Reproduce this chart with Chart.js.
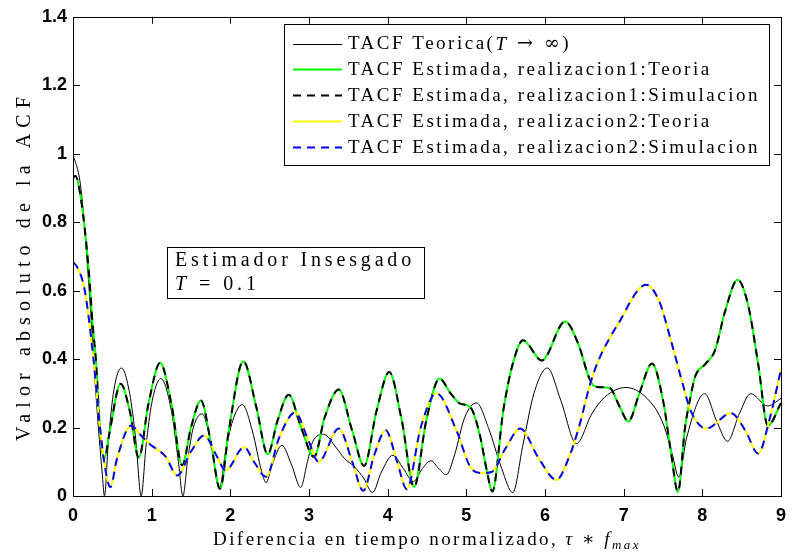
<!DOCTYPE html>
<html>
<head>
<meta charset="utf-8">
<script src="https://cdn.jsdelivr.net/npm/chart.js@4.4.1/dist/chart.umd.min.js"></script>
<style>
  body { margin: 0; background: #fff; }
</style>
</head>
<body>
<canvas id="myChart" width="795" height="554"></canvas>
<script>
// tick labels
var xTickLabels = ["0", "1", "2", "3", "4", "5", "6", "7", "8", "9"];
var yTickLabels = ["0", "0.2", "0.4", "0.6", "0.8", "1", "1.2", "1.4"];

// TACF teorica (T -> inf)
var teoX = [0, 0.1, 0.2, 0.3, 0.37, 0.40, 0.45, 0.52, 0.615, 0.72, 0.80, 0.866, 0.93, 1.0, 1.117, 1.25, 1.34, 1.397, 1.46, 1.53,
  1.64, 1.75, 1.86, 1.94, 2.03, 2.153, 2.28, 2.40, 2.455, 2.53, 2.655, 2.78, 2.894, 2.98, 3.05, 3.187, 3.35, 3.45, 3.58, 3.70,
  3.806, 3.92, 4.065, 4.20, 4.326, 4.44, 4.55, 4.65, 4.745, 4.85, 4.98, 5.13, 5.28, 5.45, 5.59, 5.72, 5.86, 6.03, 6.20, 6.40,
  6.595, 6.76, 7.03, 7.39, 7.52, 7.62, 7.70, 7.80, 8.03, 8.18, 8.32, 8.47, 8.615, 8.83, 9.0];
var teoY = [1.0, 0.90, 0.62, 0.27, 0.07, 0.0, 0.16, 0.31, 0.374, 0.30, 0.16, 0.0, 0.15, 0.27, 0.343, 0.25, 0.10, 0.0, 0.11, 0.20,
  0.240, 0.16, 0.02, 0.13, 0.22, 0.267, 0.19, 0.07, 0.039, 0.09, 0.148, 0.09, 0.025, 0.10, 0.16, 0.180, 0.14, 0.11, 0.085, 0.05,
  0.01, 0.07, 0.119, 0.08, 0.042, 0.08, 0.103, 0.08, 0.062, 0.12, 0.23, 0.272, 0.20, 0.08, 0.01, 0.15, 0.30, 0.374, 0.28, 0.153,
  0.24, 0.289, 0.317, 0.26, 0.20, 0.12, 0.055, 0.17, 0.299, 0.22, 0.160, 0.24, 0.299, 0.263, 0.285];

// realizacion 1 (teoria y simulacion coinciden)
var r1X = [0, 0.03, 0.1, 0.2, 0.25, 0.29, 0.343, 0.40, 0.46, 0.606, 0.72, 0.836, 0.96, 1.108, 1.25, 1.388, 1.50, 1.626, 1.75, 1.87,
  1.98, 2.165, 2.33, 2.475, 2.60, 2.742, 2.90, 3.065, 3.20, 3.378, 3.55, 3.70, 3.86, 4.02, 4.18, 4.336, 4.49, 4.66, 4.80, 4.92,
  5.05, 5.17, 5.26, 5.33, 5.47, 5.59, 5.72, 5.96, 6.255, 6.43, 6.55, 6.62, 6.70, 6.825, 6.95, 7.06, 7.20, 7.36, 7.50, 7.60,
  7.69, 7.78, 7.85, 7.91, 8.04, 8.16, 8.29, 8.448, 8.58, 8.71, 8.833, 9.0];
var r1Y = [0.93, 0.935, 0.87, 0.66, 0.50, 0.40, 0.20, 0.109, 0.18, 0.328, 0.25, 0.112, 0.27, 0.389, 0.27, 0.09, 0.20, 0.279, 0.16, 0.021,
  0.19, 0.394, 0.26, 0.122, 0.22, 0.296, 0.20, 0.114, 0.23, 0.311, 0.19, 0.088, 0.25, 0.362, 0.22, 0.026, 0.22, 0.343, 0.30, 0.27,
  0.26, 0.18, 0.075, 0.013, 0.25, 0.386, 0.455, 0.396, 0.51, 0.44, 0.352, 0.322, 0.318, 0.315, 0.26, 0.218, 0.30, 0.387, 0.28, 0.13,
  0.012, 0.20, 0.29, 0.35, 0.386, 0.425, 0.54, 0.632, 0.56, 0.386, 0.205, 0.272];

// realizacion 2
var r2X = [0, 0.05, 0.15, 0.26, 0.343, 0.41, 0.475, 0.56, 0.74, 0.85, 0.97, 1.18, 1.325, 1.50, 1.668, 1.82, 1.94, 2.175, 2.30, 2.455,
  2.62, 2.825, 2.98, 3.122, 3.38, 3.55, 3.69, 3.83, 3.975, 4.12, 4.243, 4.42, 4.62, 4.88, 5.05, 5.20, 5.32, 5.50, 5.685, 5.92,
  6.145, 6.30, 6.43, 6.575, 6.68, 6.93, 7.285, 7.45, 7.60, 7.75, 7.85, 8.05, 8.365, 8.55, 8.71, 8.85, 9.0];
var r2Y = [0.683, 0.67, 0.60, 0.40, 0.20, 0.08, 0.026, 0.11, 0.206, 0.18, 0.153, 0.114, 0.06, 0.13, 0.177, 0.12, 0.075, 0.143, 0.10, 0.056,
  0.17, 0.244, 0.17, 0.10, 0.197, 0.10, 0.015, 0.12, 0.192, 0.10, 0.02, 0.20, 0.30, 0.188, 0.085, 0.067, 0.07, 0.14, 0.197, 0.11,
  0.047, 0.11, 0.20, 0.328, 0.396, 0.503, 0.617, 0.57, 0.455, 0.328, 0.25, 0.197, 0.242, 0.19, 0.124, 0.22, 0.37];

var legendRows = [
  [["TACF Teorica(", ""], ["T", "italic"], [" \u2192 \u221E", "", 19, 0, '"DejaVu Serif"'], [")", ""]],
  [["TACF Estimada, realizacion1:Teoria", ""]],
  [["TACF Estimada, realizacion1:Simulacion", ""]],
  [["TACF Estimada, realizacion2:Teoria", ""]],
  [["TACF Estimada, realizacion2:Simulacion", ""]]
];

function pts(xs, ys) {
  return xs.map(function (x, i) { return { x: x, y: ys[i] }; });
}

var SERIF = '"Liberation Serif", "DejaVu Serif", serif';

function setFont(ctx, s, size) {
  ctx.font = (s[1] || "") + " " + (s[2] || size) + "px " + (s[4] || SERIF);
}
function richWidth(ctx, segs, size, sp) {
  var w = 0;
  ctx.letterSpacing = sp + "px";
  segs.forEach(function (s) {
    setFont(ctx, s, size);
    w += ctx.measureText(s[0]).width;
  });
  return w;
}
function drawRich(ctx, segs, x, y, size, sp) {
  ctx.letterSpacing = sp + "px";
  segs.forEach(function (s) {
    setFont(ctx, s, size);
    ctx.fillText(s[0], x, y + (s[3] || 0));
    x += ctx.measureText(s[0]).width;
  });
  return x;
}
function fitSpacing(ctx, segs, size, target) {
  var w0 = richWidth(ctx, segs, size, 0);
  var n = 0;
  segs.forEach(function (s) { n += s[0].length; });
  return Math.max(0, (target - w0) / n);
}

var extras = {
  id: "extras",
  afterDraw: function (chart) {
    var ctx = chart.ctx;
    var a = chart.chartArea;
    var xs = chart.scales.x, ys = chart.scales.y;
    ctx.save();
    ctx.strokeStyle = "#000";
    ctx.lineWidth = 1;
    ctx.setLineDash([]);
    // frame
    ctx.strokeRect(Math.round(a.left) + 0.5, Math.round(a.top) + 0.5, Math.round(a.right - a.left), Math.round(a.bottom - a.top));
    // inward ticks
    ctx.beginPath();
    xs.ticks.forEach(function (t, i) {
      if (i === 0 || i === xs.ticks.length - 1) return;
      var p = Math.round(xs.getPixelForValue(t.value)) + 0.5;
      ctx.moveTo(p, a.bottom); ctx.lineTo(p, a.bottom - 7);
      ctx.moveTo(p, a.top); ctx.lineTo(p, a.top + 7);
    });
    ys.ticks.forEach(function (t, i) {
      if (i === 0 || i === ys.ticks.length - 1) return;
      var p = Math.round(ys.getPixelForValue(t.value)) + 0.5;
      ctx.moveTo(a.left, p); ctx.lineTo(a.left + 7, p);
      ctx.moveTo(a.right, p); ctx.lineTo(a.right - 7, p);
    });
    ctx.stroke();

    ctx.textBaseline = "middle";
    ctx.textAlign = "left";

    // legend
    ctx.fillStyle = "#fff";
    ctx.fillRect(284, 24, 485, 141);
    ctx.strokeStyle = "#000";
    ctx.strokeRect(284.5, 24.5, 485, 141);
    var sp = fitSpacing(ctx, legendRows[2], 19, 412);
    var styles = [
      { c: "#000", w: 1, d: [] },
      { c: "#00ff00", w: 2, d: [] },
      { c: "#000", w: 2, d: [8, 6] },
      { c: "#ffff00", w: 2, d: [] },
      { c: "#0000ff", w: 2, d: [8, 6] }
    ];
    legendRows.forEach(function (row, i) {
      var y = 43.5 + i * 25.8;
      ctx.strokeStyle = styles[i].c;
      ctx.lineWidth = styles[i].w;
      ctx.setLineDash(styles[i].d);
      ctx.beginPath();
      ctx.moveTo(293, Math.round(y) + 0.5);
      ctx.lineTo(342, Math.round(y) + 0.5);
      ctx.stroke();
      ctx.fillStyle = "#000";
      drawRich(ctx, row, 348, y + 1, 19, sp);
    });
    ctx.setLineDash([]);

    // text box
    ctx.fillStyle = "#fff";
    ctx.fillRect(167, 247, 257, 51);
    ctx.strokeStyle = "#000";
    ctx.lineWidth = 1;
    ctx.strokeRect(167.5, 247.5, 257, 51);
    ctx.fillStyle = "#000";
    var box1 = [["Estimador Insesgado", ""]];
    drawRich(ctx, box1, 175, 261, 20, fitSpacing(ctx, box1, 20, 240));
    var box2 = [["T", "italic"], [" = 0.1", ""]];
    drawRich(ctx, box2, 175, 285, 20, fitSpacing(ctx, box2, 20, 85));

    // x title
    var xt = [["Diferencia en tiempo normalizado, ", ""], ["\u03C4", "italic"], [" \u2217 ", ""], ["f", "italic"], ["max", "italic", 13, 4]];
    var xsp = fitSpacing(ctx, xt, 19, 428);
    var xw = richWidth(ctx, xt, 19, xsp);
    ctx.textBaseline = "alphabetic";
    drawRich(ctx, xt, (a.left + a.right) / 2 - xw / 2, 545, 19, xsp);

    // y title
    var yt = [["Valor absoluto de la ACF", ""]];
    var ysp = fitSpacing(ctx, yt, 20, 350);
    var yw = richWidth(ctx, yt, 20, ysp);
    ctx.translate(30, 266);
    ctx.rotate(-Math.PI / 2);
    drawRich(ctx, yt, -yw / 2, 0, 20, ysp);
    ctx.restore();
  }
};

var ctx = document.getElementById("myChart");
var myChart = new Chart(ctx, {
  type: "line",
  data: {
    datasets: [
      { data: pts(teoX, teoY), borderColor: "#000", borderWidth: 1, order: 5 },
      { data: pts(r1X, r1Y), borderColor: "#00ff00", borderWidth: 2, order: 4 },
      { data: pts(r1X, r1Y), borderColor: "#000", borderWidth: 2, borderDash: [8, 6], order: 3 },
      { data: pts(r2X, r2Y), borderColor: "#ffff00", borderWidth: 2, order: 2 },
      { data: pts(r2X, r2Y), borderColor: "#0000ff", borderWidth: 2, borderDash: [8, 6], order: 1 }
    ]
  },
  options: {
    responsive: false,
    animation: false,
    elements: { point: { radius: 0 }, line: { cubicInterpolationMode: "monotone", fill: false } },
    layout: { padding: { top: 16, right: 6, left: 0, bottom: 0 } },
    plugins: { legend: { display: false }, tooltip: { enabled: false } },
    scales: {
      x: {
        type: "linear", min: 0, max: 9,
        ticks: {
          stepSize: 1, padding: 9, color: "#000", maxRotation: 0,
          font: { family: '"Liberation Sans", Arial, sans-serif', size: 18, weight: "bold" },
          callback: function (v, i) { return xTickLabels[i]; }
        },
        grid: { display: false, drawTicks: false },
        border: { display: false },
        afterFit: function (s) { s.height = 58; }
      },
      y: {
        min: 0, max: 1.4,
        ticks: {
          stepSize: 0.2, padding: 6, color: "#000",
          font: { family: '"Liberation Sans", Arial, sans-serif', size: 18, weight: "bold" },
          callback: function (v, i) { return yTickLabels[i]; }
        },
        grid: { display: false, drawTicks: false },
        border: { display: false },
        afterFit: function (s) { s.width = 73; }
      }
    }
  },
  plugins: [extras]
});
</script>
</body>
</html>
